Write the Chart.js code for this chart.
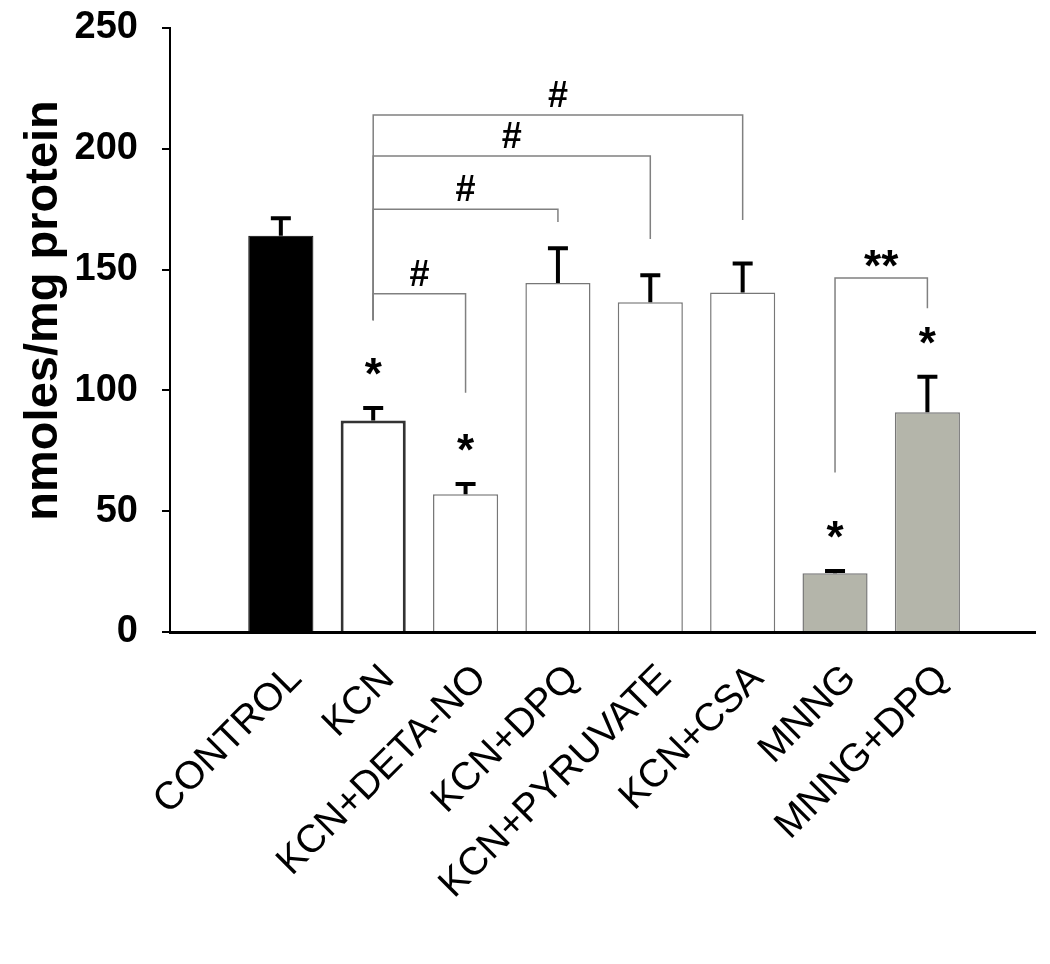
<!DOCTYPE html>
<html>
<head>
<meta charset="utf-8">
<script src="https://cdn.jsdelivr.net/npm/chart.js@4"></script>
<style>
  html, body { margin:0; padding:0; background:#fff; }
  #wrap { width:1050px; height:964px; position:relative; }
</style>
</head>
<body>
<div id="wrap"><canvas id="chart"></canvas></div>
<script>
const categories = ['CONTROL','KCN','KCN+DETA-NO','KCN+DPQ','KCN+PYRUVATE','KCN+CSA','MNNG','MNNG+DPQ'];
const means = [164, 87.5, 57, 144.5, 136.5, 140.5, 24.3, 91];
const errors = [7.3, 5.2, 4.3, 14.3, 11.2, 12, 1, 14.6];
const yTicks = [0, 50, 100, 150, 200, 250];
const starBars = [1, 2, 6, 7];
const bracketPairs = [[1,2],[1,3],[1,4],[1,5],[6,7]];
const bracketTops = [140, 175, 197, 214, 146.5];
const bracketLeftEnds = [129, 129, 129, 129, 66];
const bracketRightEnds = [99, 169.7, 162.7, 170.5, 134];
const bracketMarks = ['#','#','#','#','**'];

const FONT = "'Liberation Sans', Arial, sans-serif";
Chart.defaults.font.family = FONT;
Chart.defaults.color = '#000';

const fills = ['#000','#fff','#fff','#fff','#fff','#fff','#b4b5aa','#b4b5aa'];
const borders = ['#000','#333','#777','#777','#777','#777','#777','#777'];
const borderWidths = [1, 3, 1.5, 1.5, 1.5, 1.5, 1.5, 1.5];

// error bars, significance brackets and stars
const marks = {
  id:'marks',
  afterDatasetsDraw(chart) {
    const {ctx, scales:{x, y}} = chart;
    const bars = chart.getDatasetMeta(0).data;
    ctx.save();
    // error bars
    ctx.strokeStyle = '#000';
    ctx.lineWidth = 4;
    bars.forEach((b, i) => {
      const top = y.getPixelForValue(means[i] + errors[i]);
      ctx.beginPath();
      ctx.moveTo(b.x, y.getPixelForValue(means[i]));
      ctx.lineTo(b.x, top);
      ctx.moveTo(b.x - 10, top);
      ctx.lineTo(b.x + 10, top);
      ctx.stroke();
    });
    // brackets
    ctx.strokeStyle = '#808080';
    ctx.lineWidth = 1.5;
    ctx.fillStyle = '#000';
    ctx.textAlign = 'center';
    ctx.textBaseline = 'alphabetic';
    bracketPairs.forEach(([a, c], k) => {
      const xa = x.getPixelForValue(a), xc = x.getPixelForValue(c);
      const yt = y.getPixelForValue(bracketTops[k]);
      ctx.beginPath();
      ctx.moveTo(xa, y.getPixelForValue(bracketLeftEnds[k]));
      ctx.lineTo(xa, yt);
      ctx.lineTo(xc, yt);
      ctx.lineTo(xc, y.getPixelForValue(bracketRightEnds[k]));
      ctx.stroke();
      const isStar = bracketMarks[k].includes('*');
      ctx.font = (isStar ? 'bold 44px ' : 'bold 36px ') + FONT;
      ctx.fillText(bracketMarks[k], (xa + xc) / 2, isStar ? yt + 3 : yt - 8);
    });
    // stars over bars
    ctx.font = 'bold 44px ' + FONT;
    starBars.forEach(i => {
      const top = y.getPixelForValue(means[i] + errors[i]);
      ctx.fillText('*', bars[i].x, top - 19);
    });
    ctx.restore();
  }
};

new Chart(document.getElementById('chart').getContext('2d'), {
  type:'bar',
  data:{
    datasets:[{
      data: means.map((v, i) => ({x:i, y:v})),
      backgroundColor: fills,
      borderColor: borders,
      borderWidth: borderWidths,
      barPercentage: 1,
      categoryPercentage: 0.705
    }]
  },
  options:{
    responsive:true, maintainAspectRatio:false, animation:false,
    layout:{padding:{left:10, right:15, top:28, bottom:10}},
    plugins:{legend:{display:false}, tooltip:{enabled:false}},
    scales:{
      x:{
        type:'linear', min:-1.2, max:8.165, offset:false,
        grid:{display:false, drawTicks:false},
        border:{color:'#000', width:3},
        afterBuildTicks: s => { s.ticks = categories.map((_, i) => ({value:i})); },
        afterFit: s => { s.height = 322; },
        ticks:{
          autoSkip:false, minRotation:45, maxRotation:45, padding:24, labelOffset:15,
          font:{size:39, family:FONT},
          callback: v => categories[v]
        }
      },
      y:{
        min:0, max:250,
        afterBuildTicks: s => { s.ticks = yTicks.map(v => ({value:v})); },
        afterFit: s => { s.width = 160; s.paddingTop = 0; s.paddingBottom = 0; },
        grid:{drawOnChartArea:false, tickLength:8, color:'#000', lineWidth:2},
        border:{color:'#000', width:2},
        ticks:{padding:24, font:{size:38, weight:'bold', family:FONT}},
        title:{
          display:true, text:'   nmoles/mg protein',
          font:{size:47, weight:'bold', family:FONT},
          padding:{top:6, bottom:0}
        }
      }
    }
  },
  plugins:[marks]
});
</script>
</body>
</html>
